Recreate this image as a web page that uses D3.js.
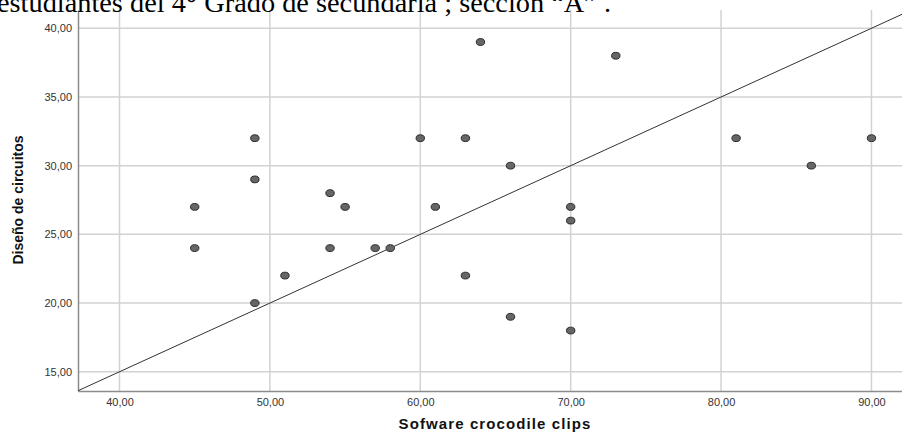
<!DOCTYPE html>
<html>
<head>
<meta charset="utf-8">
<script src="https://cdn.jsdelivr.net/npm/d3@7"></script>
<style>
  html, body { margin: 0; padding: 0; background: #fff; }
  svg { display: block; }
</style>
</head>
<body>
<svg width="902" height="434"></svg>
<script>
// scores per student
const software = [45, 45, 49, 49, 49, 51, 54, 54, 55, 57, 58, 60, 61, 63, 63, 64, 66, 66, 70, 70, 70, 73, 81, 86, 90];
const circuitos = [27, 24, 32, 29, 20, 22, 28, 24, 27, 24, 24, 32, 27, 32, 22, 39, 30, 19, 27, 26, 18, 38, 32, 30, 32];
const xTicks = [40, 50, 60, 70, 80, 90];
const yTicks = [15, 20, 25, 30, 35, 40];
// reference line y = a + b*x
const lineIntercept = -5;
const lineSlope = 0.5;

const svg = d3.select('svg');
const plotLeft = 78, plotRight = 902, plotTop = 10, plotBottom = 391;

const x = d3.scaleLinear().domain([37.24, 92.03]).range([plotLeft, plotRight]);
const y = d3.scaleLinear().domain([13.6, 41.33]).range([plotBottom, plotTop]);

const fmt = (d) => d.toFixed(2).replace('.', ',');

// grid
const grid = svg.append('g').attr('stroke', '#d2d2d2').attr('stroke-width', 1.5);
grid.selectAll('.gx').data(xTicks).enter().append('line')
    .attr('x1', (d) => x(d)).attr('x2', (d) => x(d))
    .attr('y1', plotTop).attr('y2', plotBottom);
grid.selectAll('.gy').data(yTicks).enter().append('line')
    .attr('x1', plotLeft).attr('x2', plotRight)
    .attr('y1', (d) => y(d)).attr('y2', (d) => y(d));

// axes
const xAxis = svg.append('g')
    .attr('transform', `translate(0,${plotBottom})`)
    .call(d3.axisBottom(x).tickValues(xTicks).tickFormat(fmt).tickSize(0).tickPadding(7));
const yAxis = svg.append('g')
    .attr('transform', `translate(${plotLeft},0)`)
    .call(d3.axisLeft(y).tickValues(yTicks).tickFormat(fmt).tickSize(0).tickPadding(6));
[xAxis, yAxis].forEach((a) => {
    a.select('.domain').attr('stroke', '#8c8c8c').attr('stroke-width', 1.5);
    a.selectAll('text')
        .attr('font-family', '"Liberation Sans", Arial, sans-serif')
        .attr('font-size', 11)
        .attr('fill', '#333');
});

// reference line, clipped to plot area
svg.append('clipPath').attr('id', 'plot')
    .append('rect').attr('x', plotLeft).attr('y', plotTop)
    .attr('width', plotRight - plotLeft).attr('height', plotBottom - plotTop);
const x0 = x.domain()[0], x1 = x.domain()[1];
svg.append('line')
    .attr('clip-path', 'url(#plot)')
    .attr('x1', x(x0)).attr('y1', y(lineIntercept + lineSlope * x0))
    .attr('x2', x(x1)).attr('y2', y(lineIntercept + lineSlope * x1))
    .attr('stroke', '#333')
    .attr('stroke-width', 1);

// points
svg.append('g').selectAll('ellipse')
    .data(software.map((d, i) => [d, circuitos[i]]))
    .enter().append('ellipse')
    .attr('cx', (d) => x(d[0]))
    .attr('cy', (d) => y(d[1]))
    .attr('rx', 4.2)
    .attr('ry', 3.4)
    .attr('fill', '#666')
    .attr('stroke', '#2b2b2b')
    .attr('stroke-width', 1);

// axis titles
svg.append('text')
    .attr('x', 495).attr('y', 429)
    .attr('text-anchor', 'middle')
    .attr('font-family', '"Liberation Sans", Arial, sans-serif')
    .attr('font-weight', 'bold')
    .attr('font-size', 15)
    .attr('letter-spacing', 1.1)
    .attr('fill', '#111')
    .text('Sofware crocodile clips');

svg.append('text')
    .attr('transform', 'translate(23,200) rotate(-90)')
    .attr('text-anchor', 'middle')
    .attr('font-family', '"Liberation Sans", Arial, sans-serif')
    .attr('font-weight', 'bold')
    .attr('font-size', 14)
    .attr('fill', '#111')
    .text('Diseño de circuitos');

// title fragment from the page above, cut off at the top
svg.append('text')
    .attr('x', -3)
    .attr('y', 12)
    .attr('font-family', '"Liberation Serif", "Times New Roman", serif')
    .attr('font-size', 27)
    .attr('fill', '#000')
    .attr('textLength', 614)
    .attr('lengthAdjust', 'spacingAndGlyphs')
    .text('estudiantes del 4° Grado de secundaria ; sección “A” .');
</script>
</body>
</html>
